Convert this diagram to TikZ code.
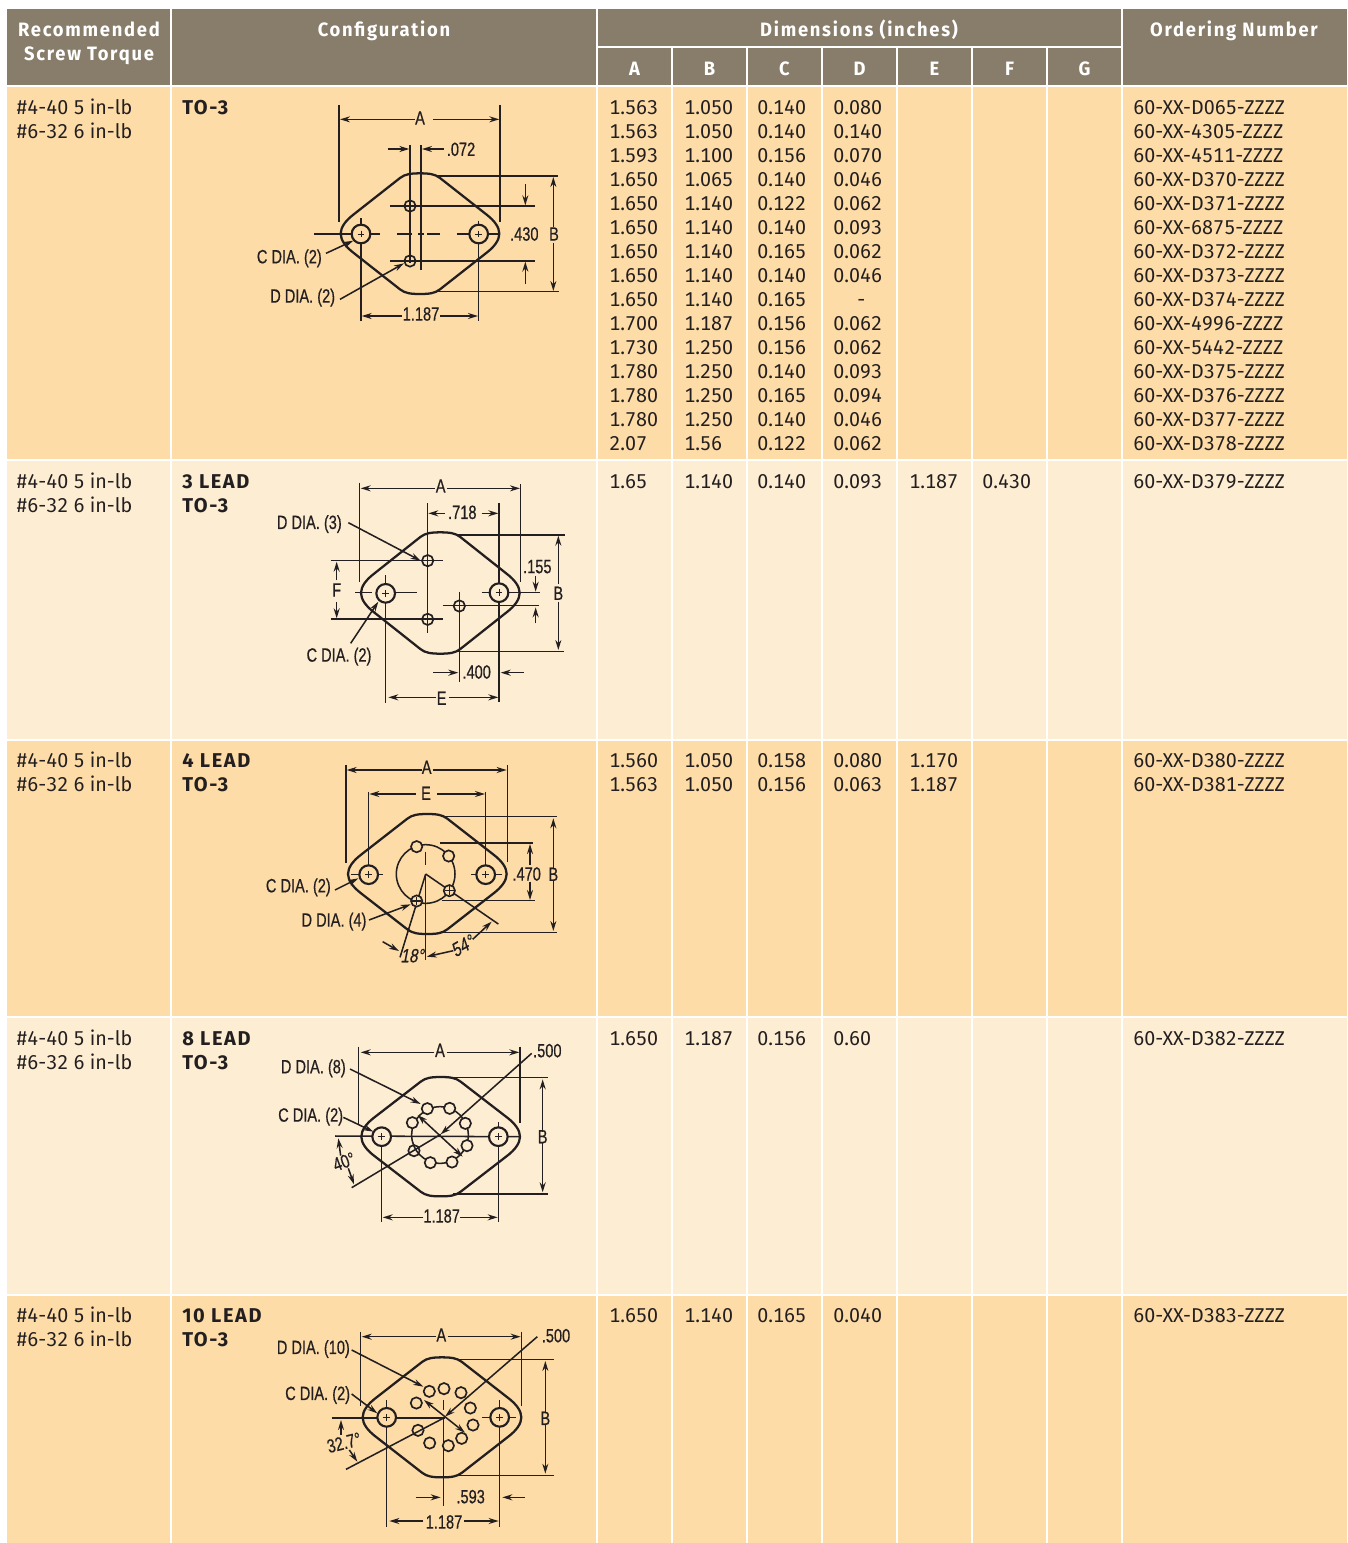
\documentclass[tikz,border=0pt]{standalone}
\usepackage{fontspec}
\usetikzlibrary{arrows.meta}
\setmainfont[Numbers=Monospaced,FakeStretch=0.985]{Fira Sans}
\newfontfamily\bdfont[LetterSpace=8]{Fira Sans}
\newfontfamily\hdfont[FakeStretch=0.95,LetterSpace=9]{Fira Sans}
\newfontfamily\dimfont[FakeStretch=0.76,FakeBold=0.5]{Liberation Sans}
\newfontfamily\dimital[FakeStretch=0.8,FakeBold=0.5,FakeSlant=0.2]{Liberation Sans}
\definecolor{hdr}{HTML}{887D6B}
\definecolor{rowA}{HTML}{FDDCA8}
\definecolor{rowB}{HTML}{FDEED3}
\definecolor{ink}{HTML}{231F20}
\newcounter{nd}
\newcommand\tx[4]{\stepcounter{nd}\node[#1] (n\thend) at (#2,#3) {#4};}
\tikzset{
  cellt/.style={anchor=base west,inner sep=0pt,text=ink,font=\fontsize{15}{18}\selectfont},
  cellb/.style={cellt,font=\fontsize{15}{18}\selectfont\bdfont\bfseries},
  headt/.style={anchor=base,inner sep=0pt,text=white,font=\fontsize{14.5}{18}\selectfont\hdfont\bfseries},
  diml/.style={inner sep=0pt,text=ink,font=\fontsize{14.4}{16}\selectfont\dimfont},
  dimi/.style={diml,font=\fontsize{14.4}{16}\selectfont\dimital},
  thin line/.style={draw=ink,line width=1.15pt},
  outl/.style={draw=ink,line width=1.7pt,line join=round},
  arr/.style={thin line,-{Stealth[length=7.5pt,width=4.5pt]}},
  arrb/.style={thin line,{Stealth[length=7.5pt,width=4.5pt]}-{Stealth[length=7.5pt,width=4.5pt]}},
  chole/.style={draw=ink,line width=1.6pt},
  dhole/.style={draw=ink,line width=1.25pt},
  zoomed/.style={x=0.25pt,y=-0.25pt}
}
% rounded diamond outline, in zoomed units
\newcommand\pkg[3]{\draw[outl,shift={(#1,#2)}]
  (0,-#3) .. controls (27,-#3) and (45,-#3+2) .. (60,-#3+14) -- (200,-57)
  .. controls (222,-40) and (238,-20) .. (238,0)
  .. controls (238,20) and (222,40) .. (200,57) -- (60,#3-14)
  .. controls (45,#3-2) and (27,#3) .. (0,#3)
  .. controls (-27,#3) and (-45,#3-2) .. (-60,#3-14) -- (-200,57)
  .. controls (-222,40) and (-238,20) .. (-238,0)
  .. controls (-238,-20) and (-222,-40) .. (-200,-57) -- (-60,-#3+14)
  .. controls (-45,-#3+2) and (-27,-#3) .. (0,-#3) -- cycle;}
\newcommand\chl[2]{\draw[chole,fill=bgc] (#1,#2) circle[radius=28];
  \draw[thin line,line width=0.7pt] (#1-10,#2) -- (#1+10,#2) (#1,#2-10) -- (#1,#2+10);}
\newcommand\dhl[2]{\draw[dhole] (#1,#2) circle[radius=17];}
\begin{document}
\begin{tikzpicture}[x=0.75pt,y=-0.75pt]
\useasboundingbox (0,0) rectangle (1348,1543);
\fill[white] (0,0) rectangle (1348,1543);
% bands
\fill[hdr] (7,9) rectangle (1347,86);
\fill[rowA] (7,86) rectangle (1347,460);
\fill[rowB] (7,460) rectangle (1347,740);
\fill[rowA] (7,740) rectangle (1347,1017);
\fill[rowB] (7,1017) rectangle (1347,1295);
\fill[rowA] (7,1295) rectangle (1347,1543);
% grid
\begin{scope}[draw=white,line width=1.6pt]
\foreach \yy in {86,460,740,1017,1295} \draw (7,\yy) -- (1347,\yy);
\draw (597,47) -- (1122,47);
\foreach \xx in {171,597,1122} \draw (\xx,9) -- (\xx,1543);
\foreach \xx in {672,747,822,897,972,1047} \draw (\xx,47) -- (\xx,1543);
\end{scope}
% header
\tx{headt}{89}{36}{Recommended}
\tx{headt}{89}{60}{Screw Torque}
\tx{headt}{384}{36}{Configuration}
\tx{headt}{859}{36}{Dimensions (inches)}
\tx{headt}{1234}{36}{Ordering Number}
\foreach \l/\xx in {A/634.5,B/709.5,C/784.5,D/859.5,E/934.5,F/1009.5,G/1084.5}
  {\tx{headt}{\xx}{75}{\l}}
% left columns
\foreach \yy in {114,488,767,1045,1322}{
  \tx{cellt}{16}{\yy}{\#4-40 5 in-lb}
  \tx{cellt}{16}{\yy+24}{\#6-32 6 in-lb}
}
\tx{cellb}{182}{114}{TO-3}
\tx{cellb}{182}{488}{3 LEAD}\tx{cellb}{182}{512}{TO-3}
\tx{cellb}{182}{767}{4 LEAD}\tx{cellb}{182}{791}{TO-3}
\tx{cellb}{182}{1045}{8 LEAD}\tx{cellb}{182}{1069}{TO-3}
\tx{cellb}{182}{1322}{10 LEAD}\tx{cellb}{182}{1346}{TO-3}
% data of first row
\foreach \yy/\a/\b/\c/\d/\o in {
114/1.563/1.050/0.140/0.080/60-XX-D065-ZZZZ,
138/1.563/1.050/0.140/0.140/60-XX-4305-ZZZZ,
162/1.593/1.100/0.156/0.070/60-XX-4511-ZZZZ,
186/1.650/1.065/0.140/0.046/60-XX-D370-ZZZZ,
210/1.650/1.140/0.122/0.062/60-XX-D371-ZZZZ,
234/1.650/1.140/0.140/0.093/60-XX-6875-ZZZZ,
258/1.650/1.140/0.165/0.062/60-XX-D372-ZZZZ,
282/1.650/1.140/0.140/0.046/60-XX-D373-ZZZZ,
306/1.650/1.140/0.165/\hspace{18pt}-/60-XX-D374-ZZZZ,
330/1.700/1.187/0.156/0.062/60-XX-4996-ZZZZ,
354/1.730/1.250/0.156/0.062/60-XX-5442-ZZZZ,
378/1.780/1.250/0.140/0.093/60-XX-D375-ZZZZ,
402/1.780/1.250/0.165/0.094/60-XX-D376-ZZZZ,
426/1.780/1.250/0.140/0.046/60-XX-D377-ZZZZ,
450/2.07/1.56/0.122/0.062/60-XX-D378-ZZZZ}{
  \tx{cellt}{609}{\yy}{\a}\tx{cellt}{684}{\yy}{\b}\tx{cellt}{757}{\yy}{\c}
  \tx{cellt}{833}{\yy}{\d}\tx{cellt}{1133}{\yy}{\o}
}
% other rows
\tx{cellt}{609}{488}{1.65}\tx{cellt}{684}{488}{1.140}\tx{cellt}{757}{488}{0.140}\tx{cellt}{833}{488}{0.093}\tx{cellt}{909}{488}{1.187}\tx{cellt}{982}{488}{0.430}\tx{cellt}{1133}{488}{60-XX-D379-ZZZZ}
\tx{cellt}{609}{767}{1.560}\tx{cellt}{684}{767}{1.050}\tx{cellt}{757}{767}{0.158}\tx{cellt}{833}{767}{0.080}\tx{cellt}{909}{767}{1.170}\tx{cellt}{1133}{767}{60-XX-D380-ZZZZ}
\tx{cellt}{609}{791}{1.563}\tx{cellt}{684}{791}{1.050}\tx{cellt}{757}{791}{0.156}\tx{cellt}{833}{791}{0.063}\tx{cellt}{909}{791}{1.187}\tx{cellt}{1133}{791}{60-XX-D381-ZZZZ}
\tx{cellt}{609}{1045}{1.650}\tx{cellt}{684}{1045}{1.187}\tx{cellt}{757}{1045}{0.156}\tx{cellt}{833}{1045}{0.60}\tx{cellt}{1133}{1045}{60-XX-D382-ZZZZ}
\tx{cellt}{609}{1322}{1.650}\tx{cellt}{684}{1322}{1.140}\tx{cellt}{757}{1322}{0.165}\tx{cellt}{833}{1322}{0.040}\tx{cellt}{1133}{1322}{60-XX-D383-ZZZZ}

% ---------- drawing 1
\colorlet{bgc}{rowA}
\begin{scope}[shift={(240,90)},zoomed]
\pkg{540}{431}{181}
\foreach \p/\q in {297/45,780/45}{\draw[thin line] (\p,\q) -- (\p,395);}
\draw[arr] (525,88) -- (300,88); \draw[arr] (580,88) -- (778,88); \tx{diml}{540}{84}{A}
\draw[thin line] (510,165) -- (510,520); \draw[thin line] (543,165) -- (543,540);
\draw[arr] (443,177) -- (508,177); \draw[arr] (612,177) -- (546,177); \tx{diml}{663}{178}{.072}
\dhl{510}{348}\dhl{510}{513}
\draw[thin line] (450,348) -- (885,348); \draw[thin line] (450,513) -- (885,513);
\draw[thin line] (590,258) -- (955,258); \draw[thin line] (590,605) -- (958,605);
\draw[arr] (940,410) -- (940,261); \draw[arr] (940,458) -- (940,603); \tx{diml}{942}{432}{B}
\draw[arr] (856,282) -- (856,346); \draw[arr] (856,582) -- (856,515); \tx{diml}{853}{432}{.430}
\draw[thin line] (222,432) -- (420,432); \draw[thin line] (472,432) -- (515,432); \draw[thin line] (535,432) -- (552,432); \draw[thin line] (562,432) -- (600,432); \draw[thin line] (652,432) -- (780,432);
\draw[thin line] (363,385) -- (363,692); \draw[thin line] (716,392) -- (716,692);
\chl{363}{432}\chl{716}{432}
\draw[arr] (485,678) -- (365,678); \draw[arr] (600,678) -- (714,678); \tx{diml}{543}{672}{1.187}
\tx{diml}{148}{505}{C DIA. (2)} \draw[arr] (258,490) -- (340,452);
\tx{diml}{188}{623}{D DIA. (2)} \draw[arr] (300,628) -- (492,520);
\end{scope}

% ---------- drawing 2
\colorlet{bgc}{rowB}
\begin{scope}[shift={(260,470)},zoomed]
\pkg{541}{369}{182}
\draw[thin line] (298,38) -- (298,335); \draw[thin line] (782,42) -- (782,335);
\draw[arr] (525,55) -- (302,55); \draw[arr] (562,55) -- (780,55); \tx{diml}{542}{48}{A}
\draw[thin line] (503,100) -- (503,490); \draw[thin line] (717,100) -- (717,695);
\draw[arr] (555,130) -- (505,130); \draw[arr] (665,130) -- (715,130); \tx{diml}{607}{127}{.718}
\tx{diml}{148}{162}{D DIA. (3)} \draw[arr] (265,158) -- (482,272);
\draw[thin line] (590,195) -- (915,195); \draw[thin line] (590,545) -- (912,545);
\draw[arr] (895,342) -- (895,197); \draw[arr] (895,395) -- (895,540); \tx{diml}{895}{370}{B}
\tx{diml}{832}{290}{.155}
\draw[arr] (827,318) -- (827,365); \draw[arr] (827,460) -- (827,412);
\draw[thin line] (665,368) -- (840,368); \draw[thin line] (550,407) -- (838,407);
\draw[thin line] (212,272) -- (550,272); \draw[thin line] (212,447) -- (550,447);
\dhl{503}{272}\dhl{503}{448}\dhl{598}{408}
\draw[arr] (230,330) -- (230,275); \draw[arr] (230,395) -- (230,445); \tx{diml}{230}{360}{F}
\draw[thin line] (285,368) -- (335,368); \draw[thin line] (408,368) -- (470,368);
\draw[thin line] (377,315) -- (377,698); \draw[thin line] (598,365) -- (598,635);
\chl{377}{370}\chl{717}{368}
\tx{diml}{237}{560}{C DIA. (2)} \draw[arr] (272,520) -- (355,395);
\draw[arr] (520,608) -- (595,608); \draw[arr] (792,608) -- (722,608); \tx{diml}{650}{606}{.400}
\draw[arr] (528,682) -- (385,682); \draw[arr] (568,682) -- (715,682); \tx{diml}{545}{685}{E}
\end{scope}

% ---------- drawing 3
\colorlet{bgc}{rowA}
\begin{scope}[shift={(250,750)},zoomed]
\pkg{532}{372}{180}
\draw[thin line] (288,45) -- (288,338); \draw[thin line] (772,45) -- (772,335);
\draw[arr] (515,60) -- (290,60); \draw[arr] (548,60) -- (770,60); \tx{diml}{530}{52}{A}
\draw[arr] (498,132) -- (358,132); \draw[arr] (562,132) -- (705,132); \tx{diml}{528}{130}{E}
\draw[thin line] (355,125) -- (355,405); \draw[thin line] (707,125) -- (707,405);
\draw[thin line] (302,374) -- (400,374); \draw[thin line] (663,374) -- (755,374);
\chl{356}{374}\chl{707}{374}
\draw[thin line] (580,200) -- (922,200); \draw[thin line] (575,547) -- (922,547);
\draw[arr] (910,355) -- (910,205); \draw[arr] (910,392) -- (910,543); \tx{diml}{910}{373}{B}
\draw[thin line] (570,279) -- (848,279); \draw[thin line] (575,452) -- (855,452);
\draw[arr] (840,345) -- (840,282); \draw[arr] (840,395) -- (840,450); \tx{diml}{830}{372}{.470}
\draw[thin line] (527,372) circle[radius=88];
\draw[thin line] (527,305) -- (527,345); \draw[thin line] (527,372) -- (527,630);
\draw[thin line] (527,372) -- (450,622); \draw[thin line] (527,372) -- (745,522);
\foreach \p/\q in {500/290,596/318,598/422,500/453}{\draw[dhole,fill=rowA] (\p,\q) circle[radius=17];}
\draw[thin line] (585,422) -- (612,422); \draw[thin line] (487,453) -- (514,453);
\draw[thin line] (598,409) -- (598,435); \draw[thin line] (500,440) -- (500,466);
\draw[arr] (398,575) -- (447,603); \draw[arr] (610,602) -- (530,620); \tx{dimi}{486}{617}{18°}
\tx{dimi,rotate=30}{637}{588}{54°}
\draw[arr] (668,568) -- (725,515);
\tx{diml}{145}{412}{C DIA. (2)} \draw[arr] (255,420) -- (325,385);
\tx{diml}{252}{515}{D DIA. (4)} \draw[arr] (357,510) -- (482,463);
\end{scope}

% ---------- drawing 4
\colorlet{bgc}{rowB}
\begin{scope}[shift={(270,1035)},zoomed]
\pkg{512}{305}{179}
\draw[thin line] (266,35) -- (266,270); \draw[thin line] (750,35) -- (750,265);
\draw[arr] (493,52) -- (272,52); \draw[arr] (530,52) -- (748,52); \tx{diml}{510}{46}{A}
\tx{diml}{832}{47}{.500}
\draw[arr] (785,55) -- (512,298); \draw[thin line] (245,458) -- (512,298);
\tx{diml}{130}{100}{D DIA. (8)} \draw[arr] (240,102) -- (452,207);
\tx{diml}{122}{245}{C DIA. (2)} \draw[arr] (220,247) -- (310,290);
\draw[thin line] (195,303) -- (750,305);
\draw[thin line] (335,280) -- (335,562); \draw[thin line] (685,262) -- (685,562);
\chl{335}{305}\chl{685}{305}
\draw[thin line] (540,128) -- (833,128); \draw[thin line] (550,477) -- (833,477);
\draw[arr] (818,290) -- (818,133); \draw[arr] (818,325) -- (818,472); \tx{diml}{818}{305}{B}
\draw[thin line] (510,300) circle[radius=85];
\foreach \p/\q in {472/221,539/220,586/265,591/332,546/381,481/383,427/263}{\draw[dhole,fill=rowB] (\p,\q) circle[radius=17];}
\dhl{432}{347}
\draw[arrb] (443,240) -- (578,365);
\draw[arr] (212,362) -- (205,310); \draw[arr] (235,400) -- (252,448); \tx{diml,rotate=20}{222}{380}{40°}
\draw[arr] (460,547) -- (338,547); \draw[arr] (570,547) -- (683,547); \tx{diml}{515}{543}{1.187}
\end{scope}

% ---------- drawing 5
\colorlet{bgc}{rowA}
\begin{scope}[shift={(270,1320)},zoomed]
\pkg{516}{292}{180}
\draw[thin line] (271,35) -- (271,258); \draw[thin line] (754,35) -- (754,258);
\draw[arr] (498,50) -- (275,50); \draw[arr] (533,50) -- (752,50); \tx{diml}{514}{45}{A}
\tx{diml}{858}{47}{.500} \draw[arr] (802,50) -- (525,290);
\tx{diml}{130}{87}{D DIA. (10)} \draw[arr] (245,90) -- (460,200);
\tx{diml}{143}{225}{C DIA. (2)} \draw[arr] (245,222) -- (322,280);
\draw[thin line] (185,294) -- (525,294); \draw[thin line] (636,292) -- (738,292);
\draw[thin line] (350,240) -- (350,620); \draw[thin line] (689,240) -- (689,620);
\chl{350}{292}\chl{689}{292}
\draw[thin line] (560,118) -- (852,118); \draw[thin line] (560,466) -- (852,466);
\draw[arr] (826,275) -- (826,123); \draw[arr] (826,315) -- (826,461); \tx{diml}{826}{295}{B}
\draw[thin line] (228,448) -- (525,292);
\draw[thin line] (521,240) -- (521,270); \draw[thin line] (521,292) -- (521,558);
\foreach \p/\q in {478/214,522/206,573/218,601/264,609/315,575/355,535/377,479/369,439/249}{\draw[dhole,fill=rowA] (\p,\q) circle[radius=17];}
\dhl{444}{331}
\draw[arrb] (462,240) -- (585,338);
\draw[arr] (213,345) -- (213,300); \draw[arr] (238,390) -- (262,425); \tx{diml,rotate=14}{222}{368}{32.7°}
\draw[arr] (437,532) -- (512,532); \draw[arr] (765,532) -- (697,532); \tx{diml}{602}{530}{.593}
\draw[arr] (460,603) -- (358,603); \draw[arr] (582,603) -- (686,603); \tx{diml}{522}{606}{1.187}
\end{scope}
\end{tikzpicture}
\end{document}
